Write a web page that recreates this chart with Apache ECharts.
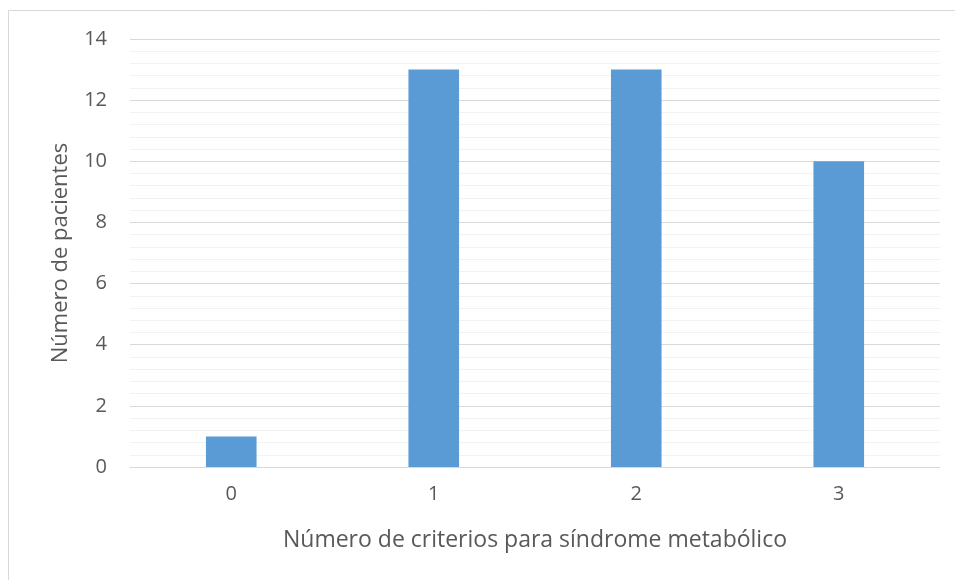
<!DOCTYPE html>
<html>
<head>
<meta charset="utf-8">
<script src="https://cdn.jsdelivr.net/npm/echarts@6/dist/echarts.min.js"></script>
<style>
  html, body { margin: 0; padding: 0; background: #fff; }
  #chart { width: 955px; height: 580px; }
</style>
</head>
<body>
<div id="chart"></div>
<script>
  // datos del gráfico
  var categorias = ['0', '1', '2', '3'];
  var pacientes = [1, 13, 13, 10];
  var ticksY = [0, 2, 4, 6, 8, 10, 12, 14];

  var myChart = echarts.init(document.getElementById('chart'));
  var option = {
    backgroundColor: '#fff',
    textStyle: { fontFamily: 'Open Sans' },
    graphic: [{
      type: 'rect',
      shape: { x: 8.5, y: 10.5, width: 950, height: 600 },
      style: { fill: 'none', stroke: '#d9d9d9', lineWidth: 1 },
      silent: true
    }],
    grid: {
      left: 130,
      right: 15,
      top: 39,
      bottom: 113
    },
    xAxis: {
      type: 'category',
      data: categorias,
      name: 'Número de criterios para síndrome metabólico',
      nameLocation: 'middle',
      nameGap: 62,
      nameTextStyle: { fontSize: 23, color: '#595959', fontFamily: 'Open Sans' },
      axisLine: { lineStyle: { color: '#d9d9d9', width: 1 } },
      axisTick: { show: false },
      axisLabel: { fontSize: 20, color: '#595959', margin: 17, fontFamily: 'Open Sans' },
      z: 3
    },
    yAxis: {
      type: 'value',
      min: ticksY[0],
      max: ticksY[ticksY.length - 1],
      interval: 2,
      name: 'Número de pacientes',
      nameLocation: 'middle',
      nameGap: 58,
      nameRotate: 90,
      nameTextStyle: { fontSize: 22, color: '#595959', fontFamily: 'Open Sans' },
      axisLine: { show: false },
      axisTick: { show: false },
      axisLabel: { fontSize: 20, color: '#595959', margin: 23, fontFamily: 'Open Sans' },
      splitLine: { lineStyle: { color: '#d9d9d9', width: 1 } },
      minorTick: { show: false, splitNumber: 5 },
      minorSplitLine: { show: true, lineStyle: { color: '#f2f2f2', width: 1 } }
    },
    series: [{
      type: 'bar',
      data: pacientes,
      barWidth: '25%',
      itemStyle: { color: '#5b9bd5' },
      silent: true
    }]
  };
  myChart.setOption(option);
</script>
</body>
</html>
